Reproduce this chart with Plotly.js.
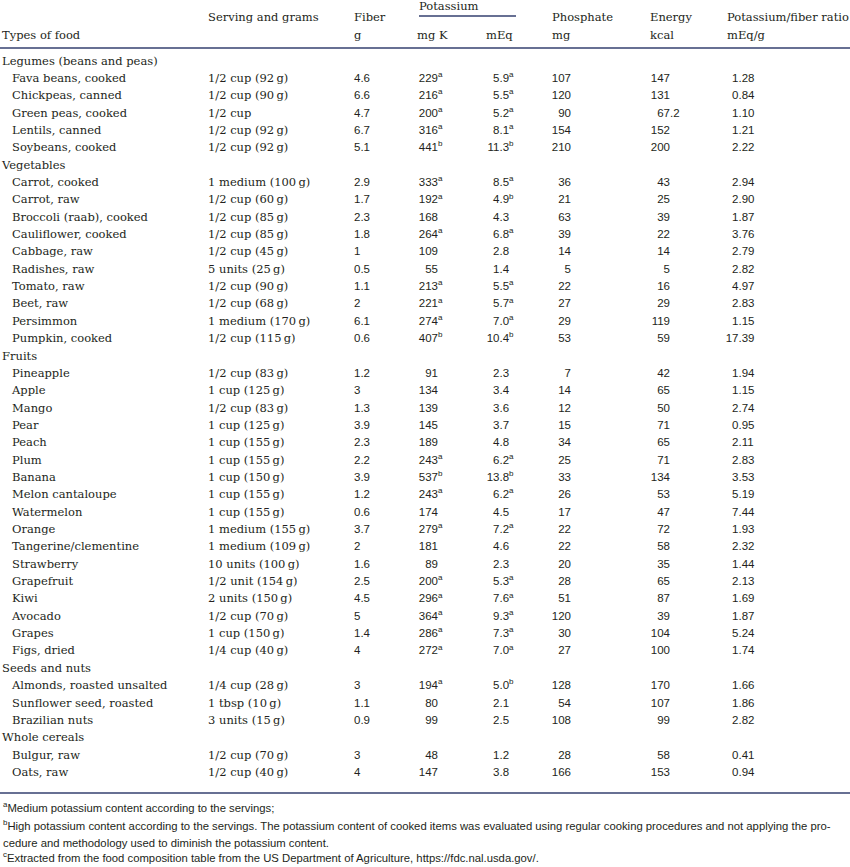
<!DOCTYPE html>
<html><head><meta charset="utf-8">
<script src="https://cdn.plot.ly/plotly-3.0.1.min.js"></script>
<style>html,body{margin:0;padding:0;background:#fff}#chart{width:850px;height:867px}</style>
</head><body><div id="chart"></div>
<script>
// ---------------- DATA ----------------
const groupNames = ["Legumes (beans and peas)", "Vegetables", "Fruits", "Seeds and nuts", "Whole cereals"];
const groupSizes = [5, 10, 17, 3, 2];
const foods = [
  "Fava beans, cooked", "Chickpeas, canned", "Green peas, cooked", "Lentils, canned", "Soybeans, cooked",
  "Carrot, cooked", "Carrot, raw", "Broccoli (raab), cooked", "Cauliflower, cooked", "Cabbage, raw",
  "Radishes, raw", "Tomato, raw", "Beet, raw", "Persimmon", "Pumpkin, cooked",
  "Pineapple", "Apple", "Mango", "Pear", "Peach", "Plum", "Banana", "Melon cantaloupe", "Watermelon",
  "Orange", "Tangerine/clementine", "Strawberry", "Grapefruit", "Kiwi", "Avocado", "Grapes", "Figs, dried",
  "Almonds, roasted unsalted", "Sunflower seed, roasted", "Brazilian nuts",
  "Bulgur, raw", "Oats, raw"
];
const servings = [
  "1/2 cup (92\u2009g)", "1/2 cup (90\u2009g)", "1/2 cup", "1/2 cup (92\u2009g)", "1/2 cup (92\u2009g)",
  "1 medium (100\u2009g)", "1/2 cup (60\u2009g)", "1/2 cup (85\u2009g)", "1/2 cup (85\u2009g)", "1/2 cup (45\u2009g)",
  "5 units (25\u2009g)", "1/2 cup (90\u2009g)", "1/2 cup (68\u2009g)", "1 medium (170\u2009g)", "1/2 cup (115\u2009g)",
  "1/2 cup (83\u2009g)", "1 cup (125\u2009g)", "1/2 cup (83\u2009g)", "1 cup (125\u2009g)", "1 cup (155\u2009g)",
  "1 cup (155\u2009g)", "1 cup (150\u2009g)", "1 cup (155\u2009g)", "1 cup (155\u2009g)", "1 medium (155\u2009g)",
  "1 medium (109\u2009g)", "10 units (100\u2009g)", "1/2 unit (154\u2009g)", "2 units (150\u2009g)", "1/2 cup (70\u2009g)",
  "1 cup (150\u2009g)", "1/4 cup (40\u2009g)",
  "1/4 cup (28\u2009g)", "1 tbsp (10\u2009g)", "3 units (15\u2009g)",
  "1/2 cup (70\u2009g)", "1/2 cup (40\u2009g)"
];
const fiber = [4.6, 6.6, 4.7, 6.7, 5.1,
  2.9, 1.7, 2.3, 1.8, 1, 0.5, 1.1, 2, 6.1, 0.6,
  1.2, 3, 1.3, 3.9, 2.3, 2.2, 3.9, 1.2, 0.6, 3.7, 2, 1.6, 2.5, 4.5, 5, 1.4, 4,
  3, 1.1, 0.9,
  3, 4];
const potassiumMg = [229, 216, 200, 316, 441,
  333, 192, 168, 264, 109, 55, 213, 221, 274, 407,
  91, 134, 139, 145, 189, 243, 537, 243, 174, 279, 181, 89, 200, 296, 364, 286, 272,
  194, 80, 99,
  48, 147];
const potassiumMgNote = ["a", "a", "a", "a", "b",
  "a", "a", "", "a", "", "", "a", "a", "a", "b",
  "", "", "", "", "", "a", "b", "a", "", "a", "", "", "a", "a", "a", "a", "a",
  "a", "", "",
  "", ""];
const potassiumMEq = [5.9, 5.5, 5.2, 8.1, 11.3,
  8.5, 4.9, 4.3, 6.8, 2.8, 1.4, 5.5, 5.7, 7.0, 10.4,
  2.3, 3.4, 3.6, 3.7, 4.8, 6.2, 13.8, 6.2, 4.5, 7.2, 4.6, 2.3, 5.3, 7.6, 9.3, 7.3, 7.0,
  5.0, 2.1, 2.5,
  1.2, 3.8];
const potassiumMEqNote = ["a", "a", "a", "a", "b",
  "a", "b", "", "a", "", "", "a", "a", "a", "b",
  "", "", "", "", "", "a", "b", "a", "", "a", "", "", "a", "a", "a", "a", "a",
  "b", "", "",
  "", ""];
const phosphate = [107, 120, 90, 154, 210,
  36, 21, 63, 39, 14, 5, 22, 27, 29, 53,
  7, 14, 12, 15, 34, 25, 33, 26, 17, 22, 22, 20, 28, 51, 120, 30, 27,
  128, 54, 108,
  28, 166];
const energy = [147, 131, 67.2, 152, 200,
  43, 25, 39, 22, 14, 5, 16, 29, 119, 59,
  42, 65, 50, 71, 65, 71, 134, 53, 47, 72, 58, 35, 65, 87, 39, 104, 100,
  170, 107, 99,
  58, 153];
const ratio = [1.28, 0.84, 1.10, 1.21, 2.22,
  2.94, 2.90, 1.87, 3.76, 2.79, 2.82, 4.97, 2.83, 1.15, 17.39,
  1.94, 1.15, 2.74, 0.95, 2.11, 2.83, 3.53, 5.19, 7.44, 1.93, 2.32, 1.44, 2.13, 1.69, 1.87, 5.24, 1.74,
  1.66, 1.86, 2.82,
  0.41, 0.94];
const headerTop = ["Serving and grams", "Fiber", "Phosphate", "Energy", "Potassium/fiber ratio"];
const headerSpan = "Potassium";
const headerBottom = ["Types of food", "g", "mg K", "mEq", "mg", "kcal", "mEq/g"];
const footnoteMarks = ["a", "b", "", "c"];
const footnoteTexts = [
  "Medium potassium content according to the servings;",
  "High potassium content according to the servings. The potassium content of cooked items was evaluated using regular cooking procedures and not applying the pro-",
  "cedure and methodology used to diminish the potassium content.",
  "Extracted from the food composition table from the US Department of Agriculture, https://fdc.nal.usda.gov/."
];

// ---------------- STYLE / LAYOUT ----------------
const SERIF = "DejaVu Serif, Liberation Serif, serif";
const SANS = "Liberation Sans, Arial, sans-serif";
const NARROW = "Liberation Sans Narrow, Liberation Sans, sans-serif";
const INK = "#231f20";
const RULE = "#34416f";
const FS = 11.5;
const ROW0 = 61.7, ROWH = 17.35;

// build row structure
const groupY = [], foodY = [];
let r = 0;
groupSizes.forEach((n) => { groupY.push(ROW0 + r * ROWH); r++; for (let k = 0; k < n; k++) { foodY.push(ROW0 + r * ROWH); r++; } });

function txt(x, y, text, pos, font, size) {
  // drop empty cells so that no empty text nodes are drawn
  const keep = text.map((t, i) => t !== "" ? i : -1).filter(i => i >= 0);
  return {type: "scatter", mode: "text",
    x: keep.map(i => x[i]), y: keep.map(i => y[i]), text: keep.map(i => text[i]),
    textposition: pos,
    textfont: {family: font, size: size || FS, color: INK}, hoverinfo: "skip", showlegend: false, cliponaxis: false};
}
const rep = (v, n) => Array(n).fill(v);
function splitDec(values, digits) {
  const ints = [], fracs = [];
  values.forEach(v => {
    const s = digits == null ? String(v) : v.toFixed(digits);
    const i = s.indexOf(".");
    if (i < 0) { ints.push(s); fracs.push(""); } else { ints.push(s.slice(0, i)); fracs.push(s.slice(i)); }
  });
  return [ints, fracs];
}
const sup = (n) => n ? "<sup>" + n + "</sup>" : "";

const N = foods.length;
const traces = [];
// group names & foods
traces.push(txt(rep(2, groupNames.length), groupY, groupNames, "middle right", SERIF));
traces.push(txt(rep(12, N), foodY, foods, "middle right", SERIF));
traces.push(txt(rep(208, N), foodY, servings, "middle right", SERIF));
// fiber (left aligned)
traces.push(txt(rep(354, N), foodY, fiber.map(String), "middle right", SANS));
// potassium mg
traces.push(txt(rep(438, N), foodY, potassiumMg.map(String), "middle left", SANS));
traces.push(txt(rep(438, N), foodY, potassiumMgNote.map(sup), "middle right", SANS));
// potassium mEq (decimal aligned)
const [mi, mf] = splitDec(potassiumMEq, 1);
traces.push(txt(rep(499.5, N), foodY, mi, "middle left", SANS));
traces.push(txt(rep(499.5, N), foodY, mf.map((f, i) => f + sup(potassiumMEqNote[i])), "middle right", SANS));
// phosphate
traces.push(txt(rep(571, N), foodY, phosphate.map(String), "middle left", SANS));
// energy (decimal aligned)
const [ei, ef] = splitDec(energy, null);
traces.push(txt(rep(670, N), foodY, ei, "middle left", SANS));
traces.push(txt(rep(670, N), foodY, ef, "middle right", SANS));
// ratio
const [ri, rf] = splitDec(ratio, 2);
traces.push(txt(rep(738.5, N), foodY, ri, "middle left", SANS));
traces.push(txt(rep(738.5, N), foodY, rf, "middle right", SANS));
// headers
traces.push(txt([208, 354, 552, 650, 727], rep(18, 5), headerTop, "middle right", SERIF));
traces.push(txt([419], [7.5], [headerSpan], "middle right", SERIF));
traces.push(txt([2, 354, 417, 486, 552, 650, 727], rep(36, 7), headerBottom, "middle right", SERIF));
// footnotes
traces.push(txt(rep(3, 4), [809, 827, 844, 859],
  footnoteTexts.map((t, i) => sup(footnoteMarks[i]) + t), "middle right", NARROW, 11.3));

const layout = {
  width: 850, height: 867,
  margin: {l: 0, r: 0, t: 0, b: 0},
  paper_bgcolor: "#fff", plot_bgcolor: "#fff",
  xaxis: {range: [0, 850], visible: false, fixedrange: true},
  yaxis: {range: [867, 0], visible: false, fixedrange: true},
  showlegend: false,
  shapes: [
    {type: "line", xref: "x", yref: "y", x0: 419, x1: 516, y0: 16, y1: 16, line: {color: RULE, width: 1.3}},
    {type: "line", xref: "x", yref: "y", x0: 0, x1: 850, y0: 48, y1: 48, line: {color: RULE, width: 1.3}},
    {type: "line", xref: "x", yref: "y", x0: 0, x1: 850, y0: 793, y1: 793, line: {color: RULE, width: 1.3}}
  ]
};
Plotly.newPlot("chart", traces, layout, {staticPlot: true, displayModeBar: false});
</script>
</body></html>
